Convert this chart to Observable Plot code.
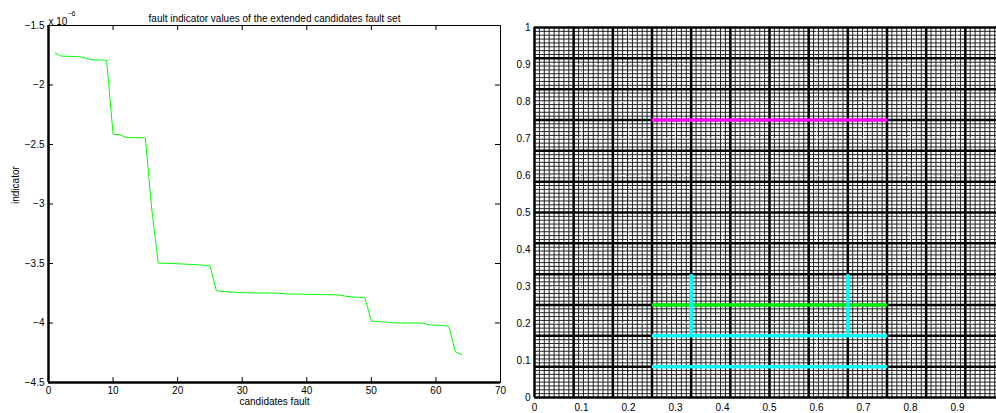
<!DOCTYPE html>
<html>
<head>
<meta charset="utf-8">
<script src="https://cdn.jsdelivr.net/npm/d3@7"></script>
<script src="https://cdn.jsdelivr.net/npm/@observablehq/plot@0.6"></script>
<style>
  html, body { margin: 0; padding: 0; background: #fff; overflow: hidden; width: 996px; height: 413px; }
  #left { position: absolute; left: 0; top: 0; width: 510px; height: 413px; }
  #right { position: absolute; left: 500px; top: 0; width: 514px; height: 413px; }
  svg { max-width: none !important; }
</style>
</head>
<body>
<div id="left"></div>
<div id="right"></div>
<script>
// ---------- Left panel data ----------
const titleText = "fault indicator values of the extended candidates fault set";
const xLabelText = "candidates fault";
const yLabelText = "indicator";
const candidateIndex = [1,2,3,4,5,6,7,8,9,10,11,12,13,14,15,16,17,18,19,20,21,22,23,24,25,26,27,28,29,30,31,32,
  33,34,35,36,37,38,39,40,41,42,43,44,45,46,47,48,49,50,51,52,53,54,55,56,57,58,59,60,61,62,63,64];
// indicator values in units of 1e-6
const indicatorValues = [-1.730,-1.757,-1.759,-1.761,-1.763,-1.779,-1.789,-1.790,-1.792,-2.414,-2.417,-2.440,-2.442,-2.443,-2.445,-3.050,
  -3.496,-3.498,-3.500,-3.502,-3.505,-3.508,-3.511,-3.514,-3.518,-3.729,-3.735,-3.740,-3.742,-3.744,-3.746,-3.748,
  -3.748,-3.748,-3.748,-3.751,-3.756,-3.757,-3.758,-3.759,-3.760,-3.761,-3.762,-3.763,-3.765,-3.775,-3.781,-3.784,
  -3.788,-3.984,-3.988,-3.992,-3.996,-4.000,-4.000,-4.000,-4.000,-4.002,-4.015,-4.018,-4.022,-4.026,-4.242,-4.265];
const leftXTicks = [0,10,20,30,40,50,60,70];
const leftYTicks = [-1.5,-2,-2.5,-3,-3.5,-4,-4.5];

// ---------- Right panel data ----------
const rightYTicks = [0,0.1,0.2,0.3,0.4,0.5,0.6,0.7,0.8,0.9,1];
const rightXTicks = [0,0.1,0.2,0.3,0.4,0.5,0.6,0.7,0.8,0.9];
const coarseDivisions = 12;
const fineDivisions = 96;
const magentaSegments = [{x1:0.25,y1:0.75,x2:0.75,y2:0.75}];
const greenSegments = [{x1:0.25,y1:0.25,x2:0.75,y2:0.25}];
const cyanSegments = [
  {x1:0.25,y1:1/6,x2:0.75,y2:1/6},
  {x1:0.25,y1:1/12,x2:0.75,y2:1/12},
  {x1:1/3,y1:1/6,x2:1/3,y2:1/3},
  {x1:2/3,y1:1/6,x2:2/3,y2:1/3}
];

const font = "'Liberation Sans', Arial, Helvetica, sans-serif";
const fmt = d => String(d).replace("-", "\u2212");
const series = candidateIndex.map((x, i) => ({x, y: indicatorValues[i]}));

const L = {w: 510, h: 413, ml: 48, mr: 10, mt: 25, mb: 31};
const plotW = L.w - L.ml - L.mr, plotH = L.h - L.mt - L.mb;
const tickLen = 5;

const left = Plot.plot({
  width: L.w, height: L.h,
  marginLeft: L.ml, marginRight: L.mr, marginTop: L.mt, marginBottom: L.mb,
  style: {fontFamily: font, fontSize: "10px", background: "transparent", overflow: "visible", color: "#000"},
  x: {domain: [0, 70]},
  y: {domain: [-4.5, -1.5]},
  marks: [
    Plot.frame({stroke: "#000", strokeWidth: 1}),
    Plot.tickX(leftXTicks, {x: d => d, insetTop: plotH - tickLen, stroke: "#000"}),
    Plot.tickX(leftXTicks, {x: d => d, insetBottom: plotH - tickLen, stroke: "#000"}),
    Plot.tickY(leftYTicks, {y: d => d, insetRight: plotW - tickLen, stroke: "#000"}),
    Plot.tickY(leftYTicks, {y: d => d, insetLeft: plotW - tickLen, stroke: "#000"}),
    Plot.ruleX([0], {stroke: "#000", strokeWidth: 2.5}),
    Plot.ruleY([-4.5], {stroke: "#000", strokeWidth: 2.5}),
    Plot.axisX({ticks: leftXTicks, tickFormat: fmt, tickSize: 0, tickPadding: 4, label: null}),
    Plot.axisY({ticks: leftYTicks, tickFormat: fmt, tickSize: 0, tickPadding: 4, label: null}),
    Plot.line(series, {x: "x", y: "y", stroke: "#00ff00", strokeWidth: 1}),
    Plot.text([titleText], {frameAnchor: "top", dy: -11, fontSize: 10}),
    Plot.text(["x 10"], {frameAnchor: "top-left", textAnchor: "start", dy: -8, fontSize: 10}),
    Plot.text(["\u22126"], {frameAnchor: "top-left", textAnchor: "start", dx: 19, dy: -14, fontSize: 7}),
    Plot.text([yLabelText], {frameAnchor: "left", rotate: -90, dx: -33, fontSize: 10}),
    Plot.text([xLabelText], {frameAnchor: "bottom", dy: 22, fontSize: 10})
  ]
});
document.getElementById("left").appendChild(left);

const fine = d3.range(fineDivisions + 1).map(i => i / fineDivisions);
const coarse = d3.range(coarseDivisions + 1).map(i => i / coarseDivisions);

const right = Plot.plot({
  width: 514, height: 413,
  marginLeft: 34, marginRight: 10, marginTop: 27, marginBottom: 16,
  style: {fontFamily: font, fontSize: "10px", background: "transparent", overflow: "visible", color: "#000"},
  x: {domain: [0, 1]},
  y: {domain: [0, 1]},
  marks: [
    Plot.ruleX(fine, {stroke: "#222", strokeWidth: 1}),
    Plot.ruleY(fine, {stroke: "#222", strokeWidth: 1}),
    Plot.ruleX(rightYTicks, {stroke: "#bbb", strokeWidth: 1, strokeDasharray: "1,3"}),
    Plot.ruleY(rightYTicks, {stroke: "#bbb", strokeWidth: 1, strokeDasharray: "1,3"}),
    Plot.ruleX(coarse, {stroke: "#000", strokeWidth: 2.5}),
    Plot.ruleY(coarse, {stroke: "#000", strokeWidth: 2.5}),
    Plot.link(magentaSegments, {x1: "x1", y1: "y1", x2: "x2", y2: "y2", stroke: "#ff00ff", strokeWidth: 3.5}),
    Plot.link(greenSegments, {x1: "x1", y1: "y1", x2: "x2", y2: "y2", stroke: "#00ee00", strokeWidth: 3.5}),
    Plot.link(cyanSegments, {x1: "x1", y1: "y1", x2: "x2", y2: "y2", stroke: "#00ffff", strokeWidth: 3.5}),
    Plot.axisX({ticks: rightXTicks, tickFormat: fmt, tickSize: 0, tickPadding: 6, label: null}),
    Plot.axisY({ticks: rightYTicks, tickFormat: fmt, tickSize: 0, tickPadding: 4, label: null})
  ]
});
document.getElementById("right").appendChild(right);
</script>
</body>
</html>
